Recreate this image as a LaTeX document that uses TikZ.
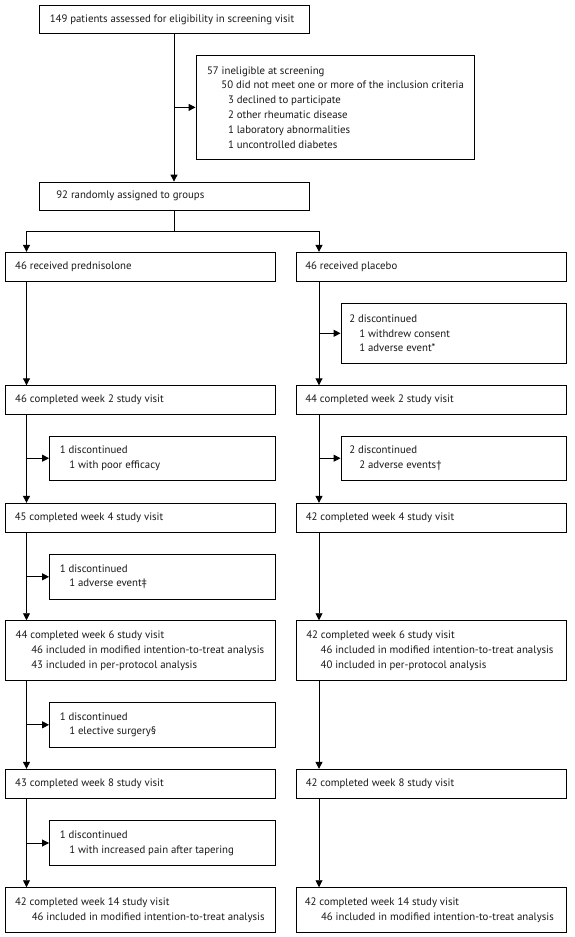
\documentclass[tikz,border=0pt]{standalone}
\usepackage{fontspec}
\setmainfont{PT Sans}
\usetikzlibrary{arrows.meta}
\begin{document}
\begin{tikzpicture}[x=1pt,y=-1pt,
  box/.style={draw=black,line width=0.9pt,inner sep=0pt,anchor=center},
  txt/.style={anchor=west,inner sep=0pt,align=left,font=\fontsize{10.8}{14.8}\selectfont,text=black!90},
  arr/.style={line width=0.9pt,-{Triangle[width=7pt,length=7pt]}},
  ln/.style={line width=0.9pt}]
\useasboundingbox (0,0) rectangle (574,937);
\fill[white] (0,0) rectangle (574,937);
% column trunk x-positions
\coordinate (tL) at (26.5,0);
\coordinate (tR) at (319,0);
\coordinate (split) at (174,231);
% top
\node[box,minimum width=270pt,minimum height=28pt] (b1) at (174,19.3) {};
\node[txt] (t1) at ([xshift=11pt]b1.west) {149 patients assessed for eligibility in screening visit};
\node[box,minimum width=278pt,minimum height=103.8pt] (excl) at (335,107.4) {};
\node[txt] (texcl) at ([xshift=11.3pt]excl.west) {57 ineligible at screening\\\hspace*{14.4pt}50 did not meet one or more of the inclusion criteria\\\hspace*{21pt}3 declined to participate\\\hspace*{21pt}2 other rheumatic disease\\\hspace*{21pt}1 laboratory abnormalities\\\hspace*{21pt}1 uncontrolled diabetes};
\node[box,minimum width=270pt,minimum height=28.3pt] (b92) at (174,196.2) {};
\node[txt] (t92) at ([xshift=17.6pt]b92.west) {92 randomly assigned to groups};
% arms
\node[box,minimum width=270pt,minimum height=29pt] (pred) at (140,266.8) {};
\node[txt] (tpred) at ([xshift=10.5pt]pred.west) {46 received prednisolone};
\node[box,minimum width=270pt,minimum height=29pt] (plac) at (431.5,266.8) {};
\node[txt] (tplac) at ([xshift=9pt]plac.west) {46 received placebo};
\node[box,minimum width=225.5pt,minimum height=60pt] (dR0) at (453.75,333.3) {};
\node[txt] (tdR0) at ([xshift=8.5pt]dR0.west) {2 discontinued\\\hspace*{10pt}1 withdrew consent\\\hspace*{10pt}1 adverse event*};
% week 2
\node[box,minimum width=270pt,minimum height=28.3pt] (w2L) at (140,399.9) {};
\node[txt] (tw2L) at ([xshift=10.5pt]w2L.west) {46 completed week 2 study visit};
\node[box,minimum width=270pt,minimum height=28.3pt] (w2R) at (431.5,399.9) {};
\node[txt] (tw2R) at ([xshift=9pt]w2R.west) {44 completed week 2 study visit};
\node[box,minimum width=225.5pt,minimum height=44pt] (dL2) at (162.25,458.2) {};
\node[txt] (tdL2) at ([xshift=10.5pt]dL2.west) {1 discontinued\\\hspace*{9.5pt}1 with poor efficacy};
\node[box,minimum width=225.5pt,minimum height=44pt] (dR2) at (453.75,458.2) {};
\node[txt] (tdR2) at ([xshift=8.5pt]dR2.west) {2 discontinued\\\hspace*{10pt}2 adverse events†};
% week 4
\node[box,minimum width=270pt,minimum height=29pt] (w4L) at (140,517.8) {};
\node[txt] (tw4L) at ([xshift=10pt]w4L.west) {45 completed week 4 study visit};
\node[box,minimum width=270pt,minimum height=29pt] (w4R) at (431.5,517.8) {};
\node[txt] (tw4R) at ([xshift=9.5pt]w4R.west) {42 completed week 4 study visit};
\node[box,minimum width=225.5pt,minimum height=45pt] (dL4) at (162.25,576.8) {};
\node[txt] (tdL4) at ([xshift=10.5pt]dL4.west) {1 discontinued\\\hspace*{9.5pt}1 adverse event‡};
% week 6
\node[box,minimum width=270pt,minimum height=59.6pt] (w6L) at (140,650.5) {};
\node[txt] (tw6L) at ([xshift=11pt]w6L.west) {44 completed week 6 study visit\\\hspace*{15.6pt}46 included in modified intention-to-treat analysis\\\hspace*{15.6pt}43 included in per-protocol analysis};
\node[box,minimum width=270pt,minimum height=59.6pt] (w6R) at (431.5,650.5) {};
\node[txt] (tw6R) at ([xshift=10pt]w6R.west) {42 completed week 6 study visit\\\hspace*{14.4pt}46 included in modified intention-to-treat analysis\\\hspace*{14.4pt}40 included in per-protocol analysis};
\node[box,minimum width=225.5pt,minimum height=45pt] (dL6) at (162.25,724.8) {};
\node[txt] (tdL6) at ([xshift=10.5pt]dL6.west) {1 discontinued\\\hspace*{9.5pt}1 elective surgery§};
% week 8
\node[box,minimum width=270pt,minimum height=29pt] (w8L) at (140,783.8) {};
\node[txt] (tw8L) at ([xshift=10.5pt]w8L.west) {43 completed week 8 study visit};
\node[box,minimum width=270pt,minimum height=29pt] (w8R) at (431.5,783.8) {};
\node[txt] (tw8R) at ([xshift=9.5pt]w8R.west) {42 completed week 8 study visit};
\node[box,minimum width=225.5pt,minimum height=44.6pt] (dL8) at (162.25,843) {};
\node[txt] (tdL8) at ([xshift=10.5pt]dL8.west) {1 discontinued\\\hspace*{9.5pt}1 with increased pain after tapering};
% week 14
\node[box,minimum width=270pt,minimum height=44.6pt] (w14L) at (140,910) {};
\node[txt] (tw14L) at ([xshift=10.3pt]w14L.west) {42 completed week 14 study visit\\\hspace*{16.7pt}46 included in modified intention-to-treat analysis};
\node[box,minimum width=270pt,minimum height=44.6pt] (w14R) at (431.5,910) {};
\node[txt] (tw14R) at ([xshift=8.5pt]w14R.west) {42 completed week 14 study visit\\\hspace*{16.3pt}46 included in modified intention-to-treat analysis};
% connectors top
\draw[arr] (b1.south) -- (b92.north);
\draw[arr] (b1.south |- excl.west) -- (excl.west);
\draw[ln] (b92.south) -- (split);
\draw[arr] (split) -| (pred.north -| tL);
\draw[arr] (split) -| (plac.north -| tR);
% left trunk
\draw[arr] (pred.south -| tL) -- (w2L.north -| tL);
\draw[arr] (w2L.south -| tL) -- (w4L.north -| tL);
\draw[arr] (dL2.west -| tL) -- (dL2.west);
\draw[arr] (w4L.south -| tL) -- (w6L.north -| tL);
\draw[arr] (dL4.west -| tL) -- (dL4.west);
\draw[arr] (w6L.south -| tL) -- (w8L.north -| tL);
\draw[arr] (dL6.west -| tL) -- (dL6.west);
\draw[arr] (w8L.south -| tL) -- (w14L.north -| tL);
\draw[arr] (dL8.west -| tL) -- (dL8.west);
% right trunk
\draw[arr] (plac.south -| tR) -- (w2R.north -| tR);
\draw[arr] (dR0.west -| tR) -- (dR0.west);
\draw[arr] (w2R.south -| tR) -- (w4R.north -| tR);
\draw[arr] (dR2.west -| tR) -- (dR2.west);
\draw[arr] (w4R.south -| tR) -- (w6R.north -| tR);
\draw[arr] (w6R.south -| tR) -- (w8R.north -| tR);
\draw[arr] (w8R.south -| tR) -- (w14R.north -| tR);
\end{tikzpicture}
\end{document}
